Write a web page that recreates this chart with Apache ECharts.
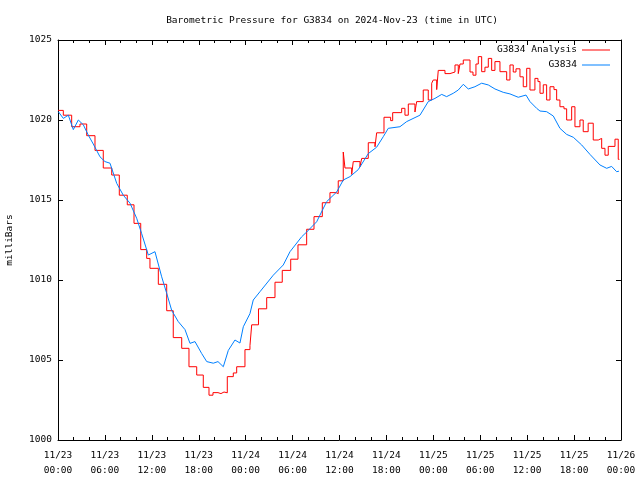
<!DOCTYPE html>
<html>
<head>
<meta charset="utf-8">
<script src="https://cdn.jsdelivr.net/npm/echarts@6/dist/echarts.min.js"></script>
<style>html,body{margin:0;padding:0;background:#fff}#c{width:640px;height:480px}</style>
</head>
<body>
<div id="c"></div>
<script>
const chartTitle = 'Barometric Pressure for G3834 on 2024-Nov-23 (time in UTC)';
const yAxisName = 'milliBars';
const seriesNames = ['G3834 Analysis', 'G3834'];
const xTickLabels = ['11/23\n00:00','11/23\n06:00','11/23\n12:00','11/23\n18:00','11/24\n00:00','11/24\n06:00','11/24\n12:00','11/24\n18:00','11/25\n00:00','11/25\n06:00','11/25\n12:00','11/25\n18:00','11/26\n00:00'];
// hours since 11/23 00:00 UTC
const analysisHours = [0,0.68,1.75,2.81,3.67,4.73,5.79,6.87,7.84,8.86,9.72,10.58,11.34,11.76,12.83,13.9,14.74,15.82,16.75,17.74,18.58,19.31,19.82,20.46,20.84,21.23,21.65,22.42,22.85,23.91,24.55,24.77,25.64,26.69,27.75,28.68,29.76,30.69,31.8,32.74,33.8,34.78,35.55,35.84,36.48,36.7,37.56,37.76,38.62,38.84,39.68,40.54,40.75,41.69,42.54,42.8,43.95,44.37,44.8,45.65,45.87,46.71,47.35,47.79,47.99,48.43,48.63,49.49,50.13,50.77,51.19,51.41,51.83,52.69,53.07,53.45,53.75,54.18,54.6,55.03,55.46,55.88,56.52,57.38,57.8,58.22,58.57,59.08,59.5,59.94,60.36,60.99,61.38,61.64,62.06,62.49,62.92,63.43,63.77,64.19,64.71,65.05,65.69,66.11,66.75,67.17,67.8,68.45,69.09,69.53,69.95,70.37,71.23,71.65,71.8];
const analysisValues = [1020.6,1020.3,1019.58,1019.75,1019.02,1018.1,1017.0,1016.56,1015.3,1014.7,1013.54,1011.9,1011.35,1010.73,1009.73,1008.08,1006.4,1005.73,1004.58,1004.06,1003.29,1002.8,1002.96,1002.9,1003.0,1002.95,1003.96,1004.19,1004.58,1005.65,1005.9,1007.2,1008.2,1008.9,1009.86,1010.6,1011.3,1012.2,1013.17,1013.96,1014.83,1015.46,1015.4,1016.2,1018.0,1017.0,1016.6,1017.4,1017.08,1017.6,1018.58,1018.33,1019.2,1020.17,1019.96,1020.46,1020.73,1020.3,1021.0,1020.5,1021.15,1021.875,1021.25,1022.3,1022.5,1021.9,1023.1,1022.9,1023.0,1023.44,1022.9,1023.5,1023.75,1023.0,1022.8,1023.5,1023.96,1023.02,1023.3,1023.85,1023.1,1023.65,1023.02,1022.5,1023.44,1023.0,1023.2,1022.7,1022.08,1023.23,1021.875,1022.6,1022.4,1021.67,1022.2,1021.25,1022.08,1021.9,1021.25,1020.83,1020.7,1020.0,1020.83,1019.58,1020.0,1019.27,1019.8,1018.75,1018.85,1018.23,1017.8,1018.35,1018.8,1017.54,1017.54];
const stationHours = [0.04,0.68,1.32,1.96,2.6,3.24,3.87,4.51,5.37,6.01,6.65,7.51,8.35,9.21,10.06,10.7,11.55,12.4,13.26,13.9,14.54,15.38,16.24,16.88,17.52,18.38,19.02,19.86,20.46,21.14,21.78,22.63,23.27,23.7,24.55,24.97,25.83,27.53,28.81,29.67,31.16,31.8,33.08,34.36,35.64,36.48,37.34,38.4,39.68,40.75,41.6,42.24,43.73,44.59,46.29,47.35,48.21,49.07,49.7,50.55,51.19,51.83,52.47,53.32,54.18,55.03,55.88,56.94,57.8,58.86,59.85,60.36,61.21,61.64,62.49,63.34,64.19,65.05,65.9,66.97,68.03,69.31,70.17,70.8,71.44,71.74];
const stationValues = [1020.52,1020.1,1020.3,1019.4,1020.0,1019.7,1019.06,1018.5,1017.7,1017.4,1017.3,1016.04,1015.3,1014.8,1013.86,1012.9,1011.56,1011.77,1010.2,1009.17,1008.1,1007.4,1006.9,1006.04,1006.15,1005.4,1004.9,1004.8,1004.9,1004.58,1005.6,1006.25,1006.06,1007.08,1007.9,1008.75,1009.27,1010.3,1010.94,1011.77,1012.7,1013.0,1013.64,1014.9,1015.5,1016.25,1016.46,1016.9,1017.9,1018.3,1018.96,1019.48,1019.58,1019.9,1020.3,1021.15,1021.35,1021.6,1021.46,1021.67,1021.875,1022.23,1021.94,1022.08,1022.3,1022.19,1021.94,1021.73,1021.63,1021.42,1021.56,1021.15,1020.73,1020.56,1020.52,1020.25,1019.48,1019.1,1018.92,1018.44,1017.85,1017.19,1016.98,1017.1,1016.77,1016.8];

const FONT = 'DejaVu Sans Mono';
const FS = 9.5;
const pair = (xs, ys) => xs.map((x, i) => [x, ys[i]]);

const chart = echarts.init(document.getElementById('c'), null, {renderer: 'canvas'});
const axisLine = {show: true, onZero: false, lineStyle: {color: '#000', width: 1}};
const xBase = {
  type: 'value', min: 0, max: 72, interval: 6,
  axisLine: axisLine,
  axisTick: {show: true, inside: true, length: 5, lineStyle: {color: '#000'}},
  minorTick: {show: true, splitNumber: 3, length: 3, lineStyle: {color: '#000'}},
  splitLine: {show: false}
};
const yBase = {
  type: 'value', min: 1000, max: 1025, interval: 5,
  axisLine: axisLine,
  axisTick: {show: true, inside: true, length: 5, lineStyle: {color: '#000'}},
  splitLine: {show: false}
};
const legendBase = {
  orient: 'vertical', align: 'right', right: 25, icon: 'rect',
  itemWidth: 28, itemHeight: 1, itemGap: 6,
  textStyle: {fontFamily: FONT, fontSize: FS, color: '#000'}
};
chart.setOption({
  animation: false,
  backgroundColor: '#fff',
  title: {
    text: chartTitle, left: 327, top: 11, textAlign: 'center',
    textStyle: {fontFamily: FONT, fontSize: FS, fontWeight: 'normal', color: '#000'}
  },
  legend: [
    Object.assign({}, legendBase, {data: [seriesNames[0]], top: 40}),
    Object.assign({}, legendBase, {data: [seriesNames[1]], top: 55})
  ],
  grid: {left: 58, right: 19, top: 40, bottom: 40, containLabel: false, outerBoundsMode: 'none'},
  xAxis: [
    Object.assign({}, xBase, {position: 'bottom',
      axisLabel: {show: true, margin: 8, lineHeight: 15, fontFamily: FONT, fontSize: FS, color: '#000',
        formatter: v => xTickLabels[Math.round(v / 6)] || ''}}),
    Object.assign({}, xBase, {position: 'top', axisLabel: {show: false}})
  ],
  yAxis: [
    Object.assign({}, yBase, {position: 'left',
      name: yAxisName, nameLocation: 'middle', nameRotate: 90, nameGap: 43,
      nameTextStyle: {fontFamily: FONT, fontSize: FS, color: '#000'},
      axisLabel: {show: true, margin: 6, fontFamily: FONT, fontSize: FS, color: '#000',
        formatter: v => String(v)}}),
    Object.assign({}, yBase, {position: 'right', axisLabel: {show: false}})
  ],
  series: [
    {name: seriesNames[0], type: 'line', step: 'end', showSymbol: false, symbol: 'none',
     data: pair(analysisHours, analysisValues), color: '#ff0000',
     lineStyle: {color: '#ff0000', width: 1}},
    {name: seriesNames[1], type: 'line', showSymbol: false, symbol: 'none',
     data: pair(stationHours, stationValues), color: '#0080ff',
     lineStyle: {color: '#0080ff', width: 1}}
  ]
});
</script>
</body>
</html>
